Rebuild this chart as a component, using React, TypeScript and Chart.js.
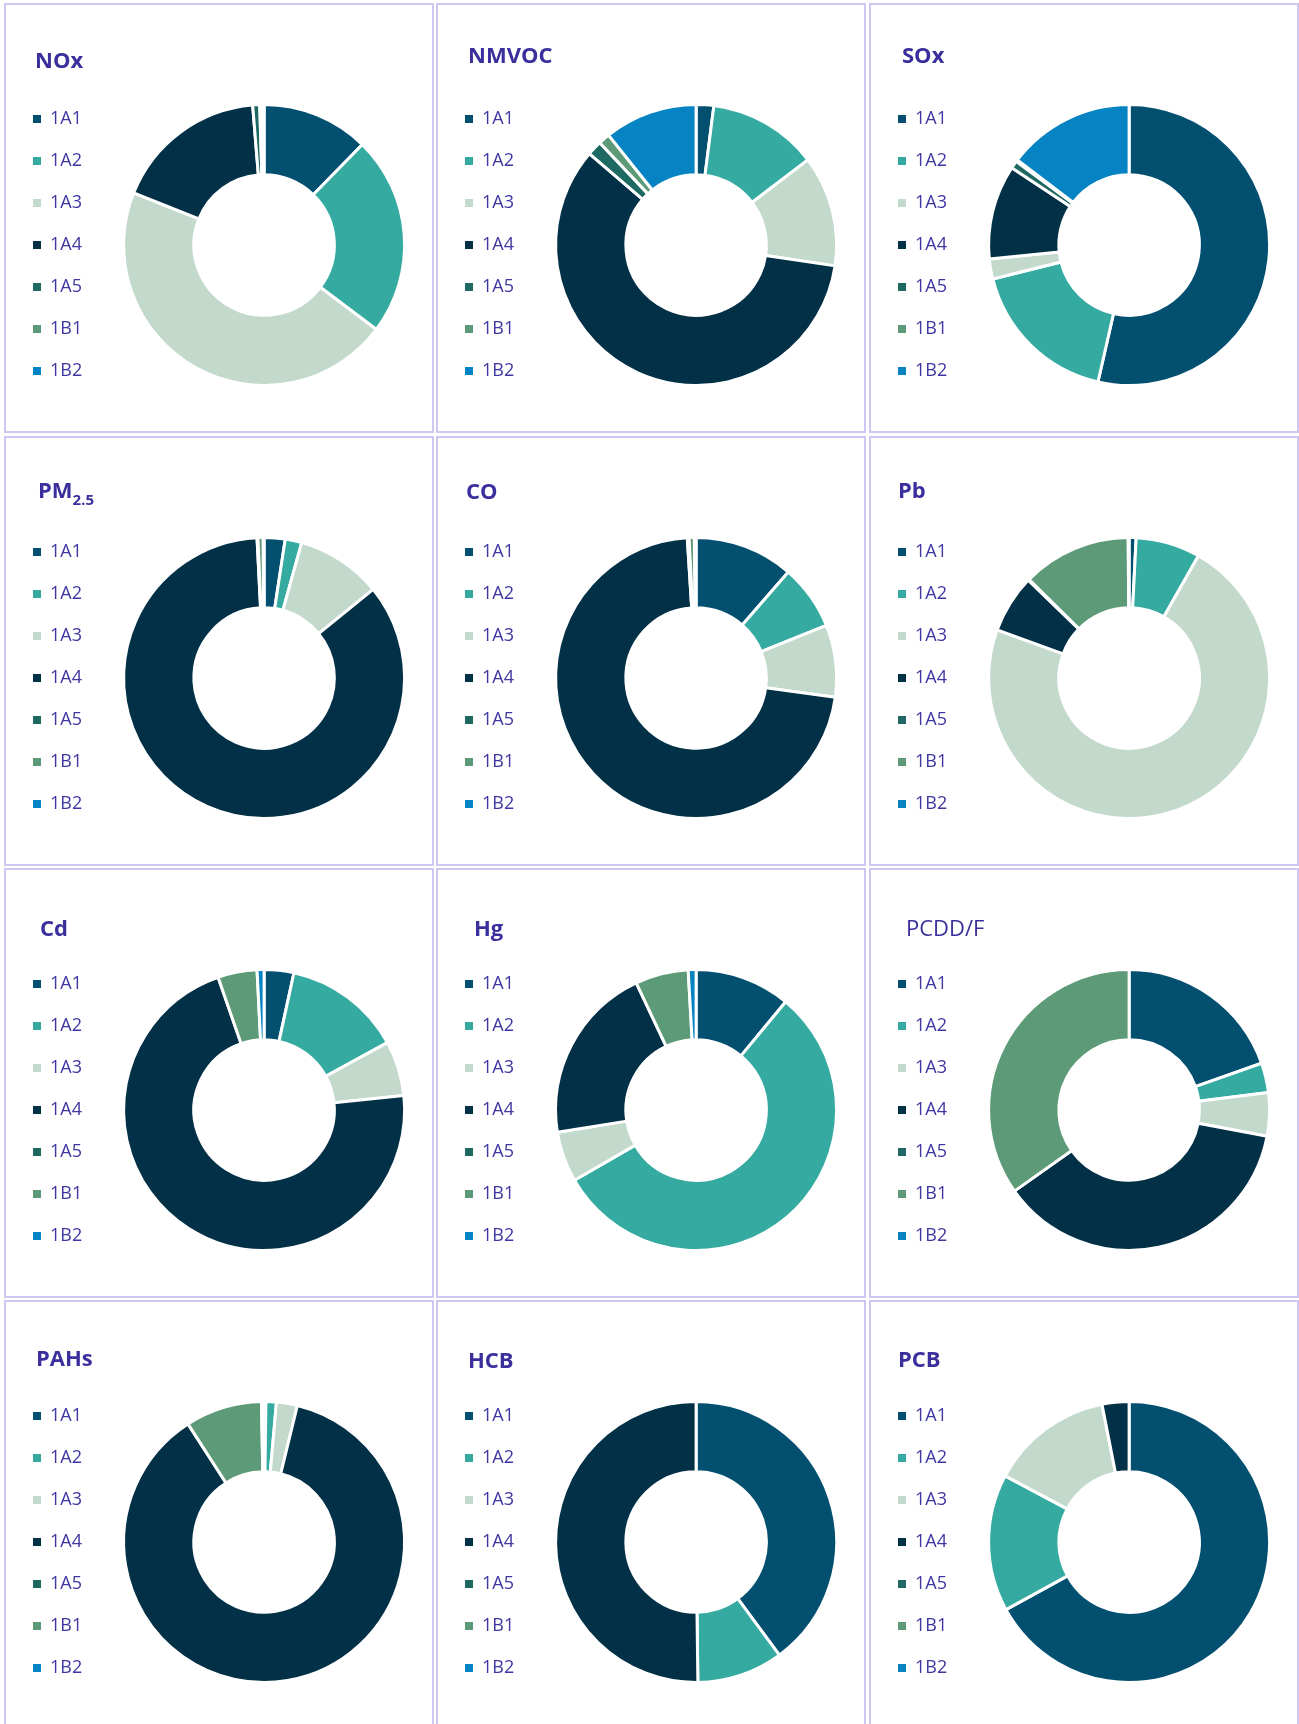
import React, { useEffect, useRef } from 'react';
import { Chart, registerables } from 'chart.js';

Chart.register(...registerables);

// ---------- data ----------
const categories = ['1A1', '1A2', '1A3', '1A4', '1A5', '1B1', '1B2'];

const pollutants = ['NOx', 'NMVOC', 'SOx', 'PM2.5', 'CO', 'Pb', 'Cd', 'Hg', 'PCDD/F', 'PAHs', 'HCB', 'PCB'];

// shares (%) per category, order: 1A1, 1A2, 1A3, 1A4, 1A5, 1B1, 1B2
const noxValues = [12.3, 22.9, 45.7, 17.6, 0.8, 0.3, 0.2];
const nmvocValues = [2.0, 12.5, 12.6, 58.3, 1.7, 1.3, 10.6];
const soxValues = [53.4, 17.5, 2.3, 10.8, 0.9, 0.2, 14.6];
const pm25Values = [2.4, 1.9, 9.8, 84.8, 0.1, 0.6, 0.1];
const coValues = [11.4, 7.5, 8.3, 71.8, 0.2, 0.6, 0.2];
const pbValues = [0.8, 7.4, 72.2, 6.7, 0.1, 12.5, 0.1];
const cdValues = [3.4, 13.6, 6.3, 71.2, 0, 4.5, 0.8];
const hgValues = [11.0, 55.6, 5.8, 20.5, 0, 6.1, 0.9];
const pcddfValues = [19.6, 3.4, 5.0, 37.2, 0, 34.8, 0];
const pahsValues = [0.2, 1.2, 2.4, 86.9, 0, 8.8, 0.3];
const hcbValues = [39.9, 9.9, 0, 50.2, 0, 0, 0];
const pcbValues = [67.0, 15.8, 14.1, 3.1, 0, 0, 0];

const seriesValues = [
  noxValues, nmvocValues, soxValues,
  pm25Values, coValues, pbValues,
  cdValues, hgValues, pcddfValues,
  pahsValues, hcbValues, pcbValues,
];

// ---------- styles / layout ----------
const sliceColors = ['#034f70', '#35aaa1', '#c2d9cc', '#023047', '#1e6a62', '#5d9a77', '#0683c2'];
const TEXT_COLOR = '#3a2f9c';
const LEGEND_COLOR = '#3f37a2';
const BORDER_COLOR = '#cdc8f1';

const panelLefts = [4, 436, 869];
const panelTops = [3, 436, 868, 1300];
const PANEL_SIZE = 430;
const DONUT_RADIUS = 140.5;

// title position inside panel: [left, top]
const titlePos: [number, number][] = [
  [29, 43], [30, 38], [31, 38],
  [32, 40], [28, 41], [27, 40],
  [34, 46], [36, 46], [35, 46],
  [30, 44], [30, 46], [27, 45],
];
const titleBold = [true, true, true, true, true, true, true, true, false, true, true, true];

function Donut({ values }: { values: number[] }) {
  const ref = useRef<HTMLCanvasElement>(null);
  useEffect(() => {
    const baseGen = (Chart.overrides as any).doughnut.plugins.legend.labels.generateLabels;
    const chart = new Chart(ref.current!, {
      type: 'doughnut',
      data: {
        labels: categories,
        datasets: [
          {
            data: values,
            backgroundColor: sliceColors,
            borderColor: '#ffffff',
            borderWidth: 3,
            hoverOffset: 0,
          },
        ],
      },
      options: {
        responsive: false,
        animation: false,
        cutout: '50%',
        radius: DONUT_RADIUS,
        layout: { padding: { left: 3, right: 0, top: 70, bottom: 16 } },
        plugins: {
          tooltip: { enabled: false },
          legend: {
            position: 'left',
            align: 'center',
            labels: {
              boxWidth: 8,
              boxHeight: 8,
              padding: 24,
              color: LEGEND_COLOR,
              font: { family: "'Open Sans'", size: 18 },
              generateLabels: (c: any) =>
                baseGen(c).map((l: any) => ({ ...l, lineWidth: 0, strokeStyle: 'rgba(0,0,0,0)' })),
            },
          },
        },
      } as any,
    });
    return () => chart.destroy();
  }, [values]);
  return (
    <canvas
      ref={ref}
      width={430}
      height={426}
      style={{ position: 'absolute', left: 0, top: 0, width: 430, height: 426 }}
    />
  );
}

function Title({ name, bold }: { name: string; bold: boolean }) {
  if (name === 'PM2.5') {
    return (
      <span>
        PM
        <span style={{ fontSize: 15, position: 'relative', top: 7 }}>2.5</span>
      </span>
    );
  }
  return <span style={{ fontWeight: bold ? 700 : 400 }}>{name}</span>;
}

export default function App() {
  return (
    <div
      style={{
        position: 'absolute',
        left: 0,
        top: 0,
        width: 1299,
        height: 1724,
        overflow: 'hidden',
        background: '#ffffff',
      }}
    >
      {pollutants.map((p, i) => {
        const col = i % 3;
        const row = Math.floor(i / 3);
        return (
          <div
            key={p}
            style={{
              position: 'absolute',
              left: panelLefts[col],
              top: panelTops[row],
              width: PANEL_SIZE,
              height: PANEL_SIZE,
              boxSizing: 'border-box',
              border: `2px solid ${BORDER_COLOR}`,
            }}
          >
            <Donut values={seriesValues[i]} />
            <div
              style={{
                position: 'absolute',
                left: titlePos[i][0],
                top: titlePos[i][1],
                fontFamily: "'Open Sans'",
                fontSize: 22,
                fontWeight: titleBold[i] ? 700 : 400,
                lineHeight: '22px',
                color: TEXT_COLOR,
                whiteSpace: 'nowrap',
              }}
            >
              <Title name={p} bold={titleBold[i]} />
            </div>
          </div>
        );
      })}
    </div>
  );
}
